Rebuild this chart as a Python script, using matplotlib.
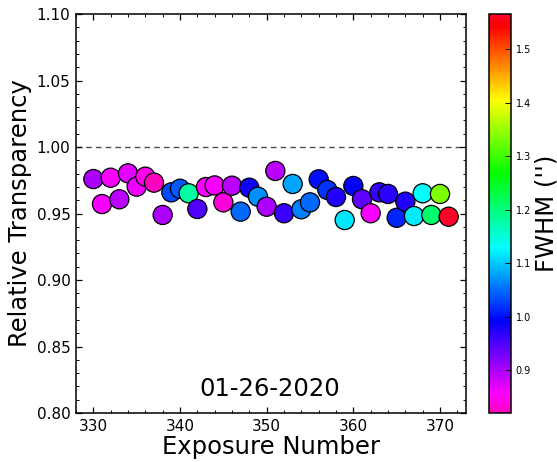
import numpy as np
import matplotlib
matplotlib.use("Agg")
import matplotlib.pyplot as plt
from matplotlib.ticker import MultipleLocator

# Exposure numbers and measured quantities for the night of 01-26-2020
exposure = list(range(330, 372))
transparency = [
    0.9759, 0.9571, 0.9769, 0.9607, 0.9802, 0.9702, 0.9777, 0.9732, 0.9489, 0.9659,
    0.9686, 0.9652, 0.9534, 0.9699, 0.9711, 0.9584, 0.9709, 0.9514, 0.9694, 0.9626,
    0.9551, 0.9820, 0.9502, 0.9722, 0.9532, 0.9584, 0.9757, 0.9677, 0.9624, 0.9451,
    0.9707, 0.9607, 0.9502, 0.9659, 0.9647, 0.9468, 0.9589, 0.9481, 0.9652, 0.9489,
    0.9647, 0.9476,
]
fwhm = [
    0.900, 0.860, 0.855, 0.890, 0.870, 0.865, 0.845, 0.820, 0.900, 1.030,
    1.040, 1.180, 0.950, 0.860, 0.860, 0.835, 0.890, 1.050, 0.985, 1.070,
    0.900, 0.890, 0.960, 1.080, 1.060, 1.050, 1.000, 1.020, 0.975, 1.115,
    0.990, 0.940, 0.860, 0.965, 0.970, 1.010, 0.975, 1.120, 1.130, 1.210,
    1.335, 1.566,
]
cbar_ticks = [0.9, 1.0, 1.1, 1.2, 1.3, 1.4, 1.5]

fig = plt.figure(figsize=(5.57, 4.62), dpi=100)
ax = fig.add_axes([76 / 557, 49 / 462, 390 / 557, 399 / 462])
cax = fig.add_axes([489 / 557, 49 / 462, 22 / 557, 399 / 462])

sc = ax.scatter(exposure, transparency, c=fwhm, cmap="gist_rainbow_r",
                s=190, edgecolors="black", linewidths=0.9, zorder=3)
ax.axhline(1.0, color="0.3", linestyle=(0, (4, 3)), linewidth=1.0, zorder=1)

ax.set_xlim(328, 373)
ax.set_ylim(0.80, 1.10)
ax.xaxis.set_major_locator(MultipleLocator(10))
ax.xaxis.set_minor_locator(MultipleLocator(2))
ax.yaxis.set_major_locator(MultipleLocator(0.05))
ax.yaxis.set_minor_locator(MultipleLocator(0.01))
ax.tick_params(which="both", direction="in", top=True, right=True, labelsize=11)
ax.tick_params(which="major", length=4, width=0.9, pad=4)
ax.tick_params(which="minor", length=2.2, width=0.7)
for sp in ax.spines.values():
    sp.set_linewidth(1.1)

ax.set_xlabel("Exposure Number", fontsize=17.5, labelpad=1)
ax.set_ylabel("Relative Transparency", fontsize=17.5, labelpad=3)
ax.text(350.3, 0.8128, "01-26-2020", ha="center", va="baseline", fontsize=17.5)

cb = fig.colorbar(sc, cax=cax)
cb.set_ticks(cbar_ticks)
cb.ax.tick_params(direction="in", labelsize=7, length=4, width=0.7)
cb.outline.set_linewidth(1.1)
cb.set_label("FWHM ('')", fontsize=17.5, labelpad=2)

fig.savefig("out.png", dpi=100)
